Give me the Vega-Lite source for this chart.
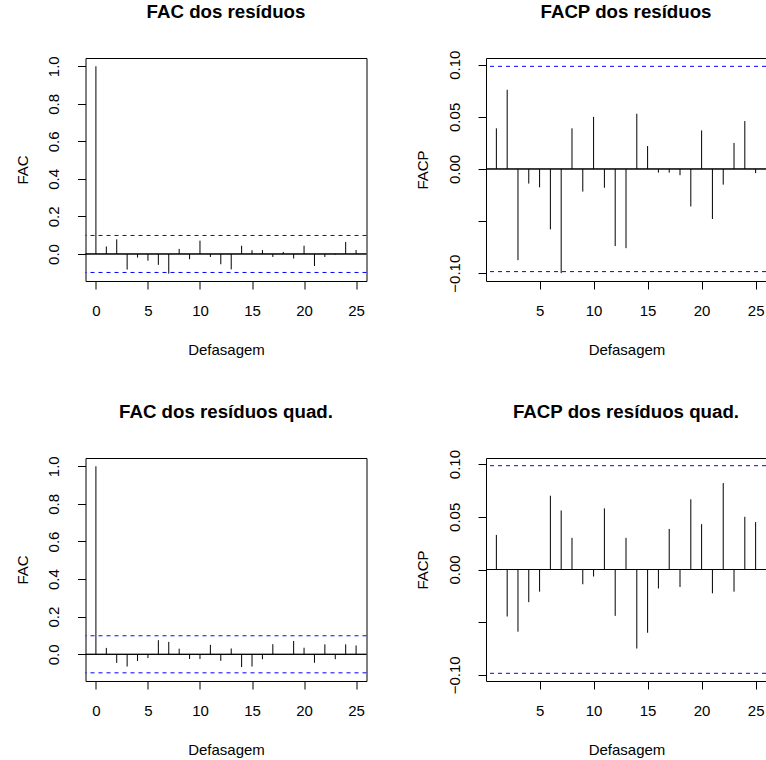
{
  "$schema": "https://vega.github.io/schema/vega-lite/v6.json",
  "padding": {"left": 14.5, "top": 2, "right": 0, "bottom": 0},
  "background": "white",
  "columns": 2,
  "spacing": {"row": 177, "column": 119.5},
  "bounds": "flush",
  "datasets": {
    "acf": [
      {"panel": "p1", "lag": 0, "value": 1.0},
      {"panel": "p1", "lag": 1, "value": 0.040},
      {"panel": "p1", "lag": 2, "value": 0.078},
      {"panel": "p1", "lag": 3, "value": -0.083},
      {"panel": "p1", "lag": 4, "value": -0.019},
      {"panel": "p1", "lag": 5, "value": -0.036},
      {"panel": "p1", "lag": 6, "value": -0.058},
      {"panel": "p1", "lag": 7, "value": -0.105},
      {"panel": "p1", "lag": 8, "value": 0.027},
      {"panel": "p1", "lag": 9, "value": -0.028},
      {"panel": "p1", "lag": 10, "value": 0.071},
      {"panel": "p1", "lag": 11, "value": -0.016},
      {"panel": "p1", "lag": 12, "value": -0.055},
      {"panel": "p1", "lag": 13, "value": -0.082},
      {"panel": "p1", "lag": 14, "value": 0.044},
      {"panel": "p1", "lag": 15, "value": 0.020},
      {"panel": "p1", "lag": 16, "value": 0.021},
      {"panel": "p1", "lag": 17, "value": -0.016},
      {"panel": "p1", "lag": 18, "value": 0.011},
      {"panel": "p1", "lag": 19, "value": -0.024},
      {"panel": "p1", "lag": 20, "value": 0.044},
      {"panel": "p1", "lag": 21, "value": -0.064},
      {"panel": "p1", "lag": 22, "value": -0.016},
      {"panel": "p1", "lag": 23, "value": -0.004},
      {"panel": "p1", "lag": 24, "value": 0.064},
      {"panel": "p1", "lag": 25, "value": 0.021},
      {"panel": "p2", "lag": 1, "value": 0.039},
      {"panel": "p2", "lag": 2, "value": 0.076},
      {"panel": "p2", "lag": 3, "value": -0.0875},
      {"panel": "p2", "lag": 4, "value": -0.014},
      {"panel": "p2", "lag": 5, "value": -0.0176},
      {"panel": "p2", "lag": 6, "value": -0.058},
      {"panel": "p2", "lag": 7, "value": -0.100},
      {"panel": "p2", "lag": 8, "value": 0.039},
      {"panel": "p2", "lag": 9, "value": -0.0217},
      {"panel": "p2", "lag": 10, "value": 0.050},
      {"panel": "p2", "lag": 11, "value": -0.018},
      {"panel": "p2", "lag": 12, "value": -0.074},
      {"panel": "p2", "lag": 13, "value": -0.076},
      {"panel": "p2", "lag": 14, "value": 0.053},
      {"panel": "p2", "lag": 15, "value": 0.022},
      {"panel": "p2", "lag": 16, "value": -0.0035},
      {"panel": "p2", "lag": 17, "value": -0.0035},
      {"panel": "p2", "lag": 18, "value": -0.006},
      {"panel": "p2", "lag": 19, "value": -0.036},
      {"panel": "p2", "lag": 20, "value": 0.037},
      {"panel": "p2", "lag": 21, "value": -0.048},
      {"panel": "p2", "lag": 22, "value": -0.015},
      {"panel": "p2", "lag": 23, "value": 0.025},
      {"panel": "p2", "lag": 24, "value": 0.046},
      {"panel": "p2", "lag": 25, "value": -0.004},
      {"panel": "p3", "lag": 0, "value": 1.0},
      {"panel": "p3", "lag": 1, "value": 0.034},
      {"panel": "p3", "lag": 2, "value": -0.046},
      {"panel": "p3", "lag": 3, "value": -0.065},
      {"panel": "p3", "lag": 4, "value": -0.036},
      {"panel": "p3", "lag": 5, "value": -0.020},
      {"panel": "p3", "lag": 6, "value": 0.075},
      {"panel": "p3", "lag": 7, "value": 0.066},
      {"panel": "p3", "lag": 8, "value": 0.030},
      {"panel": "p3", "lag": 9, "value": -0.025},
      {"panel": "p3", "lag": 10, "value": -0.025},
      {"panel": "p3", "lag": 11, "value": 0.050},
      {"panel": "p3", "lag": 12, "value": -0.035},
      {"panel": "p3", "lag": 13, "value": 0.031},
      {"panel": "p3", "lag": 14, "value": -0.068},
      {"panel": "p3", "lag": 15, "value": -0.065},
      {"panel": "p3", "lag": 16, "value": -0.026},
      {"panel": "p3", "lag": 17, "value": 0.054},
      {"panel": "p3", "lag": 18, "value": -0.003},
      {"panel": "p3", "lag": 19, "value": 0.071},
      {"panel": "p3", "lag": 20, "value": 0.035},
      {"panel": "p3", "lag": 21, "value": -0.045},
      {"panel": "p3", "lag": 22, "value": 0.053},
      {"panel": "p3", "lag": 23, "value": -0.026},
      {"panel": "p3", "lag": 24, "value": 0.053},
      {"panel": "p3", "lag": 25, "value": 0.047},
      {"panel": "p4", "lag": 1, "value": 0.0328},
      {"panel": "p4", "lag": 2, "value": -0.0446},
      {"panel": "p4", "lag": 3, "value": -0.059},
      {"panel": "p4", "lag": 4, "value": -0.031},
      {"panel": "p4", "lag": 5, "value": -0.021},
      {"panel": "p4", "lag": 6, "value": 0.070},
      {"panel": "p4", "lag": 7, "value": 0.056},
      {"panel": "p4", "lag": 8, "value": 0.030},
      {"panel": "p4", "lag": 9, "value": -0.014},
      {"panel": "p4", "lag": 10, "value": -0.0067},
      {"panel": "p4", "lag": 11, "value": 0.058},
      {"panel": "p4", "lag": 12, "value": -0.044},
      {"panel": "p4", "lag": 13, "value": 0.030},
      {"panel": "p4", "lag": 14, "value": -0.075},
      {"panel": "p4", "lag": 15, "value": -0.060},
      {"panel": "p4", "lag": 16, "value": -0.018},
      {"panel": "p4", "lag": 17, "value": 0.0385},
      {"panel": "p4", "lag": 18, "value": -0.0166},
      {"panel": "p4", "lag": 19, "value": 0.0666},
      {"panel": "p4", "lag": 20, "value": 0.043},
      {"panel": "p4", "lag": 21, "value": -0.0226},
      {"panel": "p4", "lag": 22, "value": 0.082},
      {"panel": "p4", "lag": 23, "value": -0.021},
      {"panel": "p4", "lag": 24, "value": 0.050},
      {"panel": "p4", "lag": 25, "value": 0.045}
    ],
    "ci": [
      {"panel": "p1", "level": 0.0985},
      {"panel": "p1", "level": -0.0985},
      {"panel": "p2", "level": 0.0985},
      {"panel": "p2", "level": -0.0985},
      {"panel": "p3", "level": 0.0985},
      {"panel": "p3", "level": -0.0985},
      {"panel": "p4", "level": 0.0985},
      {"panel": "p4", "level": -0.0985}
    ]
  },
  "concat": [
    {
      "width": 281, "height": 223,
      "title": {"text": "FAC dos resíduos", "offset": 34},
      "layer": [
        {
          "data": {"name": "ci"},
          "transform": [{"filter": "datum.panel == 'p1'"}],
          "mark": {"type": "rule", "color": "blue", "strokeWidth": 1, "strokeDash": [4, 4]},
          "encoding": {"y": {"field": "level", "type": "quantitative", "title": "FAC"}}
        },
        {
          "data": {"name": "acf"},
          "transform": [{"filter": "datum.panel == 'p1'"}],
          "mark": {"type": "rule", "color": "black", "strokeWidth": 1},
          "encoding": {
            "x": {"field": "lag", "type": "quantitative", "scale": {"domain": [-1, 26], "nice": false, "zero": false},
                  "axis": {"title": "Defasagem", "values": [0, 5, 10, 15, 20, 25], "format": "d"}},
            "y": {"field": "value", "type": "quantitative", "title": "FAC", "scale": {"domain": [-0.144, 1.044], "nice": false, "zero": false},
                  "axis": {"values": [0, 0.2, 0.4, 0.6, 0.8, 1.0], "format": ".1f", "titleY": 111.5}},
            "y2": {"datum": 0}
          }
        },
        {
          "data": {"name": "ci"},
          "transform": [{"filter": "datum.panel == 'p1'"}],
          "mark": {"type": "rule", "color": "black", "strokeWidth": 1},
          "encoding": {"y": {"datum": 0}}
        }
      ]
    },
    {
      "width": 280, "height": 223,
      "title": {"text": "FACP dos resíduos", "offset": 28.3},
      "layer": [
        {
          "data": {"name": "ci"},
          "transform": [{"filter": "datum.panel == 'p2'"}],
          "mark": {"type": "rule", "color": "blue", "strokeWidth": 1, "strokeDash": [4, 4]},
          "encoding": {"y": {"field": "level", "type": "quantitative", "title": "FACP"}}
        },
        {
          "data": {"name": "acf"},
          "transform": [{"filter": "datum.panel == 'p2'"}],
          "mark": {"type": "rule", "color": "black", "strokeWidth": 1},
          "encoding": {
            "x": {"field": "lag", "type": "quantitative", "scale": {"domain": [0.04, 25.96], "nice": false, "zero": false},
                  "axis": {"title": "Defasagem", "values": [5, 10, 15, 20, 25], "format": "d"}},
            "y": {"field": "value", "type": "quantitative", "title": "FACP", "scale": {"domain": [-0.1075, 0.1065], "nice": false, "zero": false},
                  "axis": {"values": [-0.1, -0.05, 0, 0.05, 0.1], "labelExpr": "datum.value == -0.05 ? '' : format(datum.value, '.2f')", "titleY": 111.5}},
            "y2": {"datum": 0}
          }
        },
        {
          "data": {"name": "ci"},
          "transform": [{"filter": "datum.panel == 'p2'"}],
          "mark": {"type": "rule", "color": "black", "strokeWidth": 1},
          "encoding": {"y": {"datum": 0}}
        }
      ]
    },
    {
      "width": 281, "height": 223,
      "title": {"text": "FAC dos resíduos quad.", "offset": 34},
      "layer": [
        {
          "data": {"name": "ci"},
          "transform": [{"filter": "datum.panel == 'p3'"}],
          "mark": {"type": "rule", "color": "blue", "strokeWidth": 1, "strokeDash": [4, 4]},
          "encoding": {"y": {"field": "level", "type": "quantitative", "title": "FAC"}}
        },
        {
          "data": {"name": "acf"},
          "transform": [{"filter": "datum.panel == 'p3'"}],
          "mark": {"type": "rule", "color": "black", "strokeWidth": 1},
          "encoding": {
            "x": {"field": "lag", "type": "quantitative", "scale": {"domain": [-1, 26], "nice": false, "zero": false},
                  "axis": {"title": "Defasagem", "values": [0, 5, 10, 15, 20, 25], "format": "d"}},
            "y": {"field": "value", "type": "quantitative", "title": "FAC", "scale": {"domain": [-0.142, 1.044], "nice": false, "zero": false},
                  "axis": {"values": [0, 0.2, 0.4, 0.6, 0.8, 1.0], "format": ".1f", "titleY": 111.5}},
            "y2": {"datum": 0}
          }
        },
        {
          "data": {"name": "ci"},
          "transform": [{"filter": "datum.panel == 'p3'"}],
          "mark": {"type": "rule", "color": "black", "strokeWidth": 1},
          "encoding": {"y": {"datum": 0}}
        }
      ]
    },
    {
      "width": 280, "height": 223,
      "title": {"text": "FACP dos resíduos quad.", "offset": 27.6},
      "layer": [
        {
          "data": {"name": "ci"},
          "transform": [{"filter": "datum.panel == 'p4'"}],
          "mark": {"type": "rule", "color": "blue", "strokeWidth": 1, "strokeDash": [4, 4]},
          "encoding": {"y": {"field": "level", "type": "quantitative", "title": "FACP"}}
        },
        {
          "data": {"name": "acf"},
          "transform": [{"filter": "datum.panel == 'p4'"}],
          "mark": {"type": "rule", "color": "black", "strokeWidth": 1},
          "encoding": {
            "x": {"field": "lag", "type": "quantitative", "scale": {"domain": [0.04, 25.96], "nice": false, "zero": false},
                  "axis": {"title": "Defasagem", "values": [5, 10, 15, 20, 25], "format": "d"}},
            "y": {"field": "value", "type": "quantitative", "title": "FACP", "scale": {"domain": [-0.1058, 0.1058], "nice": false, "zero": false},
                  "axis": {"values": [-0.1, -0.05, 0, 0.05, 0.1], "labelExpr": "datum.value == -0.05 ? '' : format(datum.value, '.2f')", "titleY": 111.5}},
            "y2": {"datum": 0}
          }
        },
        {
          "data": {"name": "ci"},
          "transform": [{"filter": "datum.panel == 'p4'"}],
          "mark": {"type": "rule", "color": "black", "strokeWidth": 1},
          "encoding": {"y": {"datum": 0}}
        }
      ]
    }
  ],
  "config": {
    "font": "Liberation Sans",
    "view": {"stroke": "black", "strokeWidth": 1},
    "title": {"font": "Liberation Sans", "fontSize": 18.7, "fontWeight": "bold", "color": "black", "anchor": "middle", "baseline": "alphabetic"},
    "axis": {
      "grid": false, "domain": false,
      "tickColor": "black", "tickSize": 8, "tickWidth": 1,
      "labelColor": "black", "labelFont": "Liberation Sans", "labelFontSize": 15,
      "titleColor": "black", "titleFont": "Liberation Sans", "titleFontSize": 15, "titleFontWeight": "normal",
      "labelOverlap": false, "labelFlush": false, "labelBound": false
    },
    "axisX": {"labelBaseline": "alphabetic", "labelPadding": 26, "titleBaseline": "alphabetic", "titleY": 73, "titleX": 140.5, "titleAlign": "center"},
    "axisY": {"labelAngle": -90, "labelAlign": "center", "labelBaseline": "alphabetic", "labelPadding": 18.7,
              "titleAngle": -90, "titleAlign": "center", "titleBaseline": "alphabetic", "titleX": -58.3}
  }
}
